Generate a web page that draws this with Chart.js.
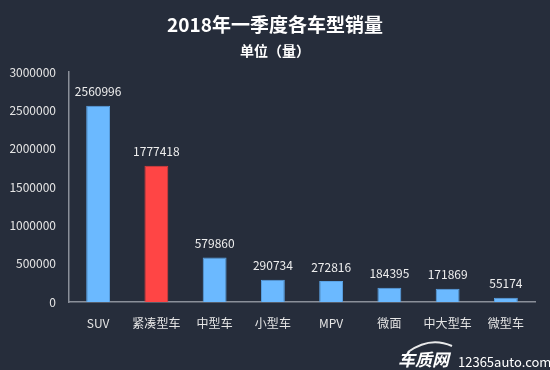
<!DOCTYPE html>
<html>
<head>
<meta charset="utf-8">
<script src="https://cdn.jsdelivr.net/npm/chart.js@4.4.1/dist/chart.umd.min.js"></script>
<style>
  html, body { margin: 0; padding: 0; background: #262d3b; }
  #wrap { width: 550px; height: 370px; }
</style>
</head>
<body>
<div id="wrap"><canvas id="chart" width="550" height="370"></canvas></div>
<script>
// 2018年一季度各车型销量
const categories = ['SUV', '紧凑型车', '中型车', '小型车', 'MPV', '微面', '中大型车', '微型车'];
const sales = [2560996, 1777418, 579860, 290734, 272816, 184395, 171869, 55174];
const highlight = [false, true, false, false, false, false, false, false];
const yTicks = [0, 500000, 1000000, 1500000, 2000000, 2500000, 3000000];

const FONT = '"Noto Sans CJK SC", "Noto Sans", sans-serif';
const BLUE = '#6bb9ff';
const RED = '#ff4545';

// background + titles + watermark
const decor = {
    id: 'decor',
    beforeDraw(chart) {
        const ctx = chart.ctx;
        ctx.save();
        ctx.fillStyle = '#262d3b';
        ctx.fillRect(0, 0, chart.width, chart.height);
        ctx.fillStyle = '#ffffff';
        ctx.textAlign = 'center';
        ctx.textBaseline = 'middle';
        ctx.font = 'bold 19px ' + FONT;
        ctx.fillText('2018年一季度各车型销量', 275, 25);
        ctx.font = 'bold 14px ' + FONT;
        ctx.fillText('单位（量）', 275, 51);
        ctx.restore();
    },
    afterDraw(chart) {
        const ctx = chart.ctx;
        ctx.save();
        // watermark
        ctx.strokeStyle = 'rgba(255,255,255,0.9)';
        ctx.lineWidth = 2;
        ctx.beginPath();
        ctx.moveTo(408, 352);
        ctx.quadraticCurveTo(430, 336, 452, 346);
        ctx.stroke();
        ctx.fillStyle = '#ffffff';
        ctx.textBaseline = 'middle';
        ctx.textAlign = 'left';
        ctx.font = 'bold italic 17px ' + FONT;
        ctx.fillText('车质网', 398, 360);
        ctx.font = '13px ' + FONT;
        ctx.fillText('12365auto.com', 458, 362);
        ctx.restore();
    }
};

// value labels above bars
const valueLabels = {
    id: 'valueLabels',
    afterDatasetsDraw(chart) {
        const ctx = chart.ctx;
        const meta = chart.getDatasetMeta(0);
        ctx.save();
        ctx.fillStyle = '#eeeeee';
        ctx.font = '12px ' + FONT;
        ctx.textAlign = 'center';
        ctx.textBaseline = 'middle';
        meta.data.forEach((bar, i) => {
            ctx.fillText(String(sales[i]), bar.x, bar.y - 14);
        });
        ctx.restore();
    }
};

new Chart(document.getElementById('chart').getContext('2d'), {
    type: 'bar',
    data: {
        labels: categories,
        datasets: [{
            data: sales,
            backgroundColor: highlight.map(h => h ? RED : BLUE),
            borderColor: highlight.map(h => h ? '#e03c3c' : '#5aa3e6'),
            borderWidth: 1,
            categoryPercentage: 0.82,
            barPercentage: 0.5
        }]
    },
    options: {
        responsive: false,
        animation: false,
        layout: { padding: { top: 72, right: 15, left: 0, bottom: 0 } },
        plugins: {
            legend: { display: false },
            title: { display: false },
            tooltip: { enabled: false }
        },
        scales: {
            x: {
                grid: { display: false, drawTicks: false },
                border: { color: '#8a8f99', width: 1.5 },
                ticks: { color: '#e6e6e6', font: { family: FONT, size: 12 }, padding: 14 },
                afterFit(scale) { scale.height = 68; }
            },
            y: {
                min: 0,
                max: 3000000,
                afterBuildTicks(scale) { scale.ticks = yTicks.map(v => ({ value: v })); },
                grid: { display: false, drawTicks: false },
                border: { color: '#8a8f99', width: 1.5 },
                ticks: {
                    color: '#e6e6e6',
                    font: { family: FONT, size: 12 },
                    padding: 13,
                    callback: v => String(v)
                },
                afterFit(scale) { scale.width = 69; }
            }
        }
    },
    plugins: [decor, valueLabels]
});
</script>
</body>
</html>
